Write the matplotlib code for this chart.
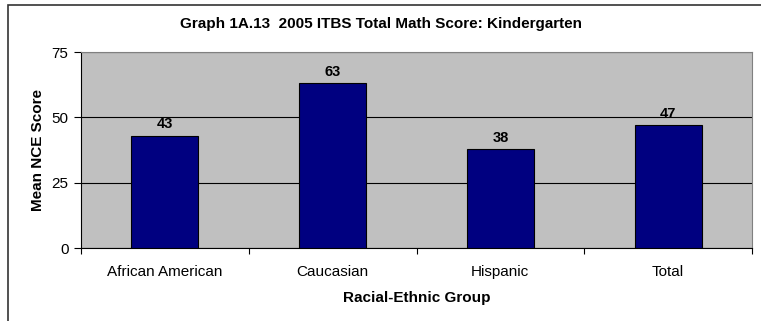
import matplotlib.pyplot as plt
from matplotlib.patches import Rectangle

plt.rcParams['font.family'] = ['Liberation Sans', 'DejaVu Sans']

groups = ["African American", "Caucasian", "Hispanic", "Total"]
scores = [43, 63, 38, 47]
yticks = [0, 25, 50, 75]

fig = plt.figure(figsize=(7.61, 3.21), dpi=100)

# outer chart frame (runs off the right and bottom edges)
fig.patches.append(Rectangle((8 / 761, -0.05), 1.0, 1 - 5 / 321 + 0.05,
                             transform=fig.transFigure, fill=False,
                             edgecolor='#333333', linewidth=1.2))

ax = fig.add_axes([81 / 761, 1 - 248 / 321, (752 - 81) / 761, (248 - 52) / 321])
ax.set_facecolor('#C0C0C0')

x = list(range(len(groups)))
bars = ax.bar(x, scores, width=0.4, color='#000080', edgecolor='black', linewidth=0.8, zorder=3)
for b, v in zip(bars, scores):
    ax.annotate(str(v), (b.get_x() + b.get_width() / 2, v), xytext=(0, 3),
                textcoords='offset points', ha='center', va='bottom',
                fontsize=10.5, fontweight='bold')

ax.set_xlim(-0.5, len(groups) - 0.5)
ax.set_ylim(0, 75)
ax.set_yticks(yticks)
ax.yaxis.grid(True, color='black', linewidth=0.8, zorder=1)
ax.set_axisbelow(True)

ax.set_xticks([i - 0.5 for i in range(len(groups) + 1)], minor=False)
ax.set_xticklabels([])
ax.set_xticks(x, minor=True)
ax.set_xticklabels(groups, minor=True)
ax.tick_params(axis='x', which='minor', length=0, pad=12, labelsize=11)
ax.tick_params(axis='x', which='major', length=4, width=0.8, direction='out')
ax.tick_params(axis='y', length=5, width=0.8, pad=4, labelsize=11)

for s in ['top', 'right']:
    ax.spines[s].set_color('#808080')
for s in ['left', 'bottom']:
    ax.spines[s].set_color('black')

ax.set_xlabel("Racial-Ethnic Group", fontsize=11, fontweight='bold', labelpad=9)
ax.set_ylabel("Mean NCE Score", fontsize=11, fontweight='bold', labelpad=5)
fig.text(0.5, 1 - 24 / 321, "Graph 1A.13  2005 ITBS Total Math Score: Kindergarten",
         ha='center', va='center', fontsize=11, fontweight='bold')

fig.savefig('out.png', dpi=100)
